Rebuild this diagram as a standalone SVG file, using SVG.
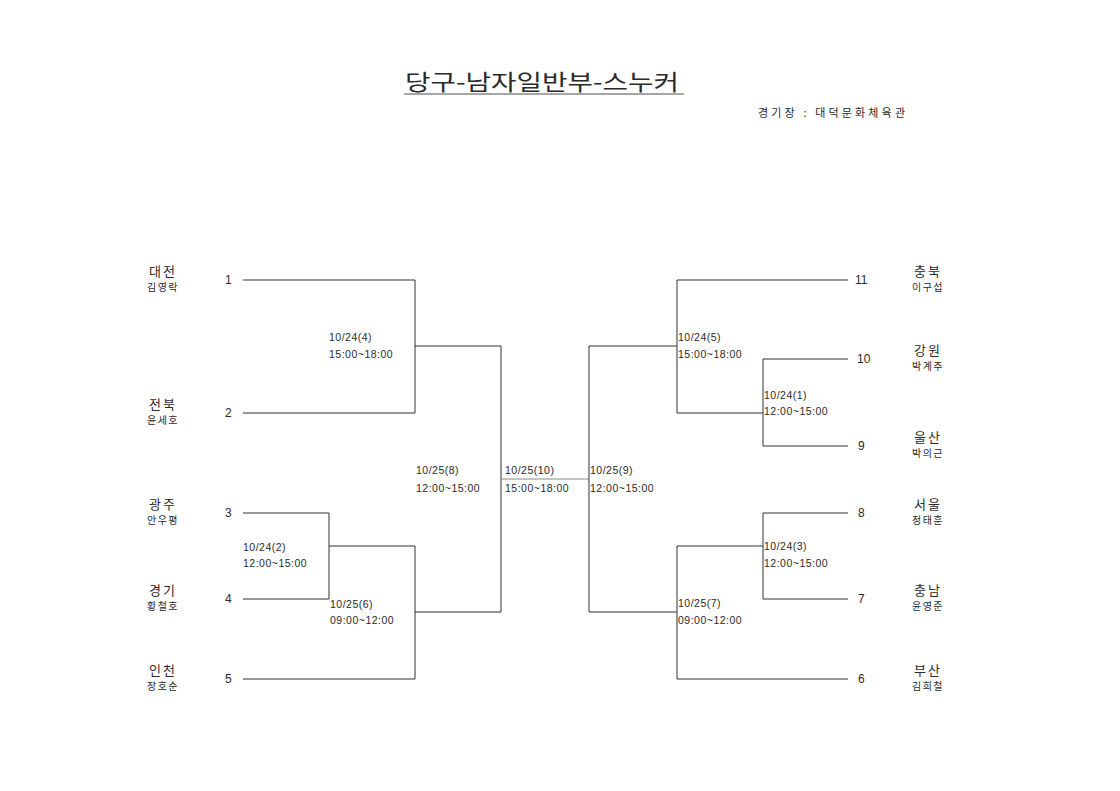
<svg xmlns="http://www.w3.org/2000/svg" width="1120" height="791" viewBox="0 0 1120 791">
<style>
text{font-family:"Noto Sans CJK KR","Liberation Sans",sans-serif;fill:#2a2a2a}
.t{font-size:22px}
.v{font-size:11px}
.n{font-size:12px;font-family:"Liberation Sans",sans-serif}
.r{font-size:13px;text-anchor:middle;letter-spacing:2px}
.p{font-size:10px;text-anchor:middle;letter-spacing:1.5px}
.m{font-size:10.5px;font-family:"Liberation Sans",sans-serif;letter-spacing:0.5px}
.c line{stroke:#333;stroke-width:1}
</style>
<rect width="1120" height="791" fill="#fff"/>
<g id="title">
<text class="t" x="405" y="90" textLength="274" lengthAdjust="spacingAndGlyphs">당구-남자일반부-스누커</text>
<line x1="404" y1="94" x2="684" y2="94" stroke="#888" stroke-width="1.5"/>
</g>
<g id="venue"><text class="v" x="758" y="117" textLength="147" lengthAdjust="spacing">경기장  :  대덕문화체육관</text></g>
<g class="c" id="connectors">
<line x1="243" y1="280" x2="415" y2="280"/>
<line x1="243" y1="413" x2="415" y2="413"/>
<line x1="415" y1="280" x2="415" y2="413"/>
<line x1="415" y1="346" x2="501" y2="346"/>
<line x1="243" y1="513" x2="329" y2="513"/>
<line x1="243" y1="599" x2="329" y2="599"/>
<line x1="329" y1="513" x2="329" y2="599"/>
<line x1="329" y1="546" x2="415" y2="546"/>
<line x1="243" y1="679" x2="415" y2="679"/>
<line x1="415" y1="546" x2="415" y2="679"/>
<line x1="415" y1="612" x2="501" y2="612"/>
<line x1="501" y1="346" x2="501" y2="612"/>
<line x1="501" y1="479" x2="589" y2="479" style="stroke:#888"/>
<line x1="589" y1="346" x2="589" y2="612"/>
<line x1="589" y1="346" x2="677" y2="346"/>
<line x1="677" y1="280" x2="677" y2="413"/>
<line x1="677" y1="280" x2="848" y2="280"/>
<line x1="677" y1="413" x2="763" y2="413"/>
<line x1="763" y1="359" x2="763" y2="446"/>
<line x1="763" y1="359" x2="848" y2="359"/>
<line x1="763" y1="446" x2="848" y2="446"/>
<line x1="589" y1="612" x2="677" y2="612"/>
<line x1="677" y1="546" x2="677" y2="679"/>
<line x1="677" y1="546" x2="763" y2="546"/>
<line x1="763" y1="513" x2="763" y2="599"/>
<line x1="763" y1="513" x2="848" y2="513"/>
<line x1="763" y1="599" x2="848" y2="599"/>
<line x1="677" y1="679" x2="848" y2="679"/>
</g>
<g id="p1"><text class="r" x="163" y="276">대전</text><text class="p" x="163" y="291">김영락</text><text class="n" x="225" y="284">1</text></g>
<g id="p2"><text class="r" x="163" y="409">전북</text><text class="p" x="163" y="424">윤세호</text><text class="n" x="225" y="417">2</text></g>
<g id="p3"><text class="r" x="163" y="509">광주</text><text class="p" x="163" y="524">안우평</text><text class="n" x="225" y="517">3</text></g>
<g id="p4"><text class="r" x="163" y="595">경기</text><text class="p" x="163" y="610">황철호</text><text class="n" x="225" y="603">4</text></g>
<g id="p5"><text class="r" x="163" y="675">인천</text><text class="p" x="163" y="690">장호순</text><text class="n" x="225" y="683">5</text></g>
<g id="p11"><text class="r" x="928" y="276">충북</text><text class="p" x="928" y="291">이구섭</text><text class="n" x="855" y="284">11</text></g>
<g id="p10"><text class="r" x="928" y="355">강원</text><text class="p" x="928" y="370">박계주</text><text class="n" x="857" y="363">10</text></g>
<g id="p9"><text class="r" x="928" y="442">울산</text><text class="p" x="928" y="457">박의근</text><text class="n" x="858" y="450">9</text></g>
<g id="p8"><text class="r" x="928" y="509">서울</text><text class="p" x="928" y="524">정태훈</text><text class="n" x="858" y="517">8</text></g>
<g id="p7"><text class="r" x="928" y="595">충남</text><text class="p" x="928" y="610">윤영준</text><text class="n" x="858" y="603">7</text></g>
<g id="p6"><text class="r" x="928" y="675">부산</text><text class="p" x="928" y="690">김희철</text><text class="n" x="858" y="683">6</text></g>
<g id="m4"><text class="m" x="329" y="341">10/24(4)</text><text class="m" x="329" y="358">15:00~18:00</text></g>
<g id="m2"><text class="m" x="243" y="551">10/24(2)</text><text class="m" x="243" y="567">12:00~15:00</text></g>
<g id="m6"><text class="m" x="330" y="608">10/25(6)</text><text class="m" x="330" y="624">09:00~12:00</text></g>
<g id="m8"><text class="m" x="416" y="474">10/25(8)</text><text class="m" x="416" y="492">12:00~15:00</text></g>
<g id="m10"><text class="m" x="505" y="474">10/25(10)</text><text class="m" x="505" y="492">15:00~18:00</text></g>
<g id="m9"><text class="m" x="590" y="474">10/25(9)</text><text class="m" x="590" y="492">12:00~15:00</text></g>
<g id="m5"><text class="m" x="678" y="341">10/24(5)</text><text class="m" x="678" y="358">15:00~18:00</text></g>
<g id="m1"><text class="m" x="764" y="399">10/24(1)</text><text class="m" x="764" y="415">12:00~15:00</text></g>
<g id="m3"><text class="m" x="764" y="550">10/24(3)</text><text class="m" x="764" y="567">12:00~15:00</text></g>
<g id="m7"><text class="m" x="678" y="607">10/25(7)</text><text class="m" x="678" y="624">09:00~12:00</text></g>
</svg>
